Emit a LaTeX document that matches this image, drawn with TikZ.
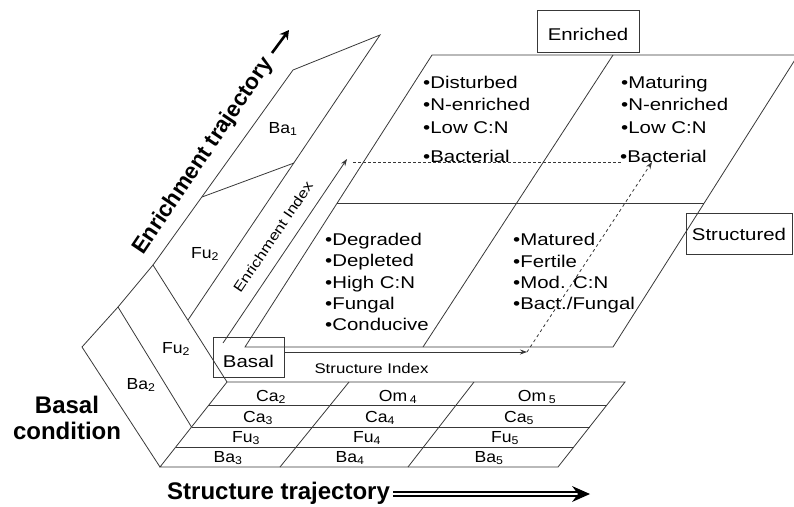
\documentclass[tikz,border=0pt]{standalone}
\usepackage{fontspec}
\setmainfont{Liberation Sans}
\newfontfamily\cellfont[FakeStretch=1.2]{Liberation Sans}
\newfontfamily\lblfont[FakeStretch=1.1]{Liberation Sans}
\usetikzlibrary{arrows.meta}
\begin{document}
\begin{tikzpicture}[x=1pt,y=-1pt,
  wire/.style={draw=black!78, line width=0.8pt},
  celltxt/.style={anchor=base west, inner sep=0pt, font=\cellfont\fontsize{17}{20}\selectfont},
  lbl/.style={anchor=base, inner sep=0pt, font=\lblfont\fontsize{16}{18}\selectfont},
  boxlbl/.style={draw=black!78, line width=0.8pt, inner sep=0pt, text depth=0pt, font=\cellfont\fontsize{17}{20}\selectfont},
  bigtxt/.style={inner sep=0pt, font=\bfseries\fontsize{24}{26}\selectfont},
  idx/.style={inner sep=0pt, font=\cellfont\fontsize{14}{16}\selectfont},
  tip/.style={-{Stealth[length=7pt,width=5pt]}},
]
\useasboundingbox (0,0) rectangle (794,506);
\clip (0,0) rectangle (794,506);

% ---- enrichment wall
\coordinate (w1) at (293,70);
\coordinate (w2) at (380,35);
\coordinate (w3) at (188,320);
\coordinate (w4) at (153,265);
\draw[wire] (w4) -- (w1) -- (w2) -- (w3);
\draw[wire] (202,197) -- (294,163);

% ---- basal condition panel
\coordinate (b0) at (82,347);
\coordinate (b1) at (118,307);
\coordinate (f0) at (227,382);
\draw[wire] (w4) -- (b1) -- (b0) -- (160,467);
\draw[wire] (b1) -- (191.5,427);
\draw[wire] (w4) -- (f0);

% ---- floor
\draw[wire] (f0) -- (625,382) -- (558,467) -- (160,467) -- cycle;
\draw[wire] (208.9,405) -- (606.9,405);
\draw[wire] (191.5,427) -- (589.5,427);
\draw[wire] (175.8,447) -- (573.8,447);
\draw[wire] (349,382) -- (280,467);
\draw[wire] (474,382) -- (408,467);

% ---- index plane
\draw[wire] (245,347) -- (613,347) -- (798,55) -- (432,55) -- cycle;
\draw[wire] (337,203) -- (704,203);
\draw[wire] (423,347) -- (613,55);

% ---- boxes
\node[boxlbl, minimum width=102pt, minimum height=42pt, text height=18pt] (enr) at (588,31) {Enriched};
\node[boxlbl, minimum width=106pt, minimum height=41pt, text height=13pt] (str) at (739,233.5) {Structured};
\node[boxlbl, minimum width=71pt, minimum height=40pt, text height=20pt] (bas) at (248.5,357) {Basal};

% ---- cell texts
\node[celltxt] (t1) at (423,88) {•Disturbed};
\node[celltxt] (t2) at (423,110) {•N-enriched};
\node[celltxt] (t3) at (423,133) {•Low C:N};
\node[celltxt] (t4) at (423,162) {•Bacterial};
\node[celltxt] (r1) at (621,88) {•Maturing};
\node[celltxt] (r2) at (621,110) {•N-enriched};
\node[celltxt] (r3) at (621,133) {•Low C:N};
\node[celltxt] (r4) at (620,162) {•Bacterial};
\node[celltxt] (d1) at (325,245) {•Degraded};
\node[celltxt] (d2) at (325,266.5) {•Depleted};
\node[celltxt] (d3) at (325,288) {•High C:N};
\node[celltxt] (d4) at (325,309) {•Fungal};
\node[celltxt] (d5) at (325,330.5) {•Conducive};
\node[celltxt] (m1) at (513,245) {•Matured};
\node[celltxt] (m2) at (513,267) {•Fertile};
\node[celltxt] (m3) at (513,288) {•Mod. C:N};
\node[celltxt] (m4) at (513,309) {•Bact./Fungal};

% ---- floor labels
\node[lbl] (ca2) at (271,401) {Ca\textsubscript{2}};
\node[lbl] (om4) at (398,401) {Om\,\textsubscript{4}};
\node[lbl] (om5) at (537,401) {Om\,\textsubscript{5}};
\node[lbl] (ca3) at (258,422) {Ca\textsubscript{3}};
\node[lbl] (ca4) at (380,422) {Ca\textsubscript{4}};
\node[lbl] (ca5) at (519,422) {Ca\textsubscript{5}};
\node[lbl] (fu3) at (246,442) {Fu\textsubscript{3}};
\node[lbl] (fu4) at (367,442) {Fu\textsubscript{4}};
\node[lbl] (fu5) at (505,442) {Fu\textsubscript{5}};
\node[lbl] (ba3) at (228,462) {Ba\textsubscript{3}};
\node[lbl] (ba4) at (350,462) {Ba\textsubscript{4}};
\node[lbl] (ba5) at (489,462) {Ba\textsubscript{5}};

% ---- wall labels
\node[lbl] (ba1) at (283,133) {Ba\textsubscript{1}};
\node[lbl] (fu2a) at (205,258) {Fu\textsubscript{2}};
\node[lbl] (fu2b) at (176,353) {Fu\textsubscript{2}};
\node[lbl] (ba2) at (141,389) {Ba\textsubscript{2}};

% ---- index arrows
\coordinate (ei0) at (223,343);
\coordinate (ei1) at (347,159);
\draw[wire, tip] (ei0) -- (ei1);
\node[idx, rotate=56] (eilbl) at (273,237) {Enrichment Index};
\coordinate (si0) at (284,352);
\coordinate (si1) at (527,352);
\draw[wire, tip] (si0) -- (si1);
\node[idx, anchor=base] (silbl) at (371.5,373) {Structure Index};
\coordinate (dh0) at (353,162);
\coordinate (dh1) at (622,162);
\draw[wire, dash pattern=on 3pt off 2pt] (dh0) -- (dh1);
\coordinate (dv1) at (652,162);
\draw[wire, dash pattern=on 3pt off 3pt, tip] (si1) -- (dv1);

% ---- trajectory labels
\node[bigtxt, anchor=base west, rotate=56, font=\bfseries\fontsize{22.5}{24}\selectfont] (etraj) at (143,256) {Enrichment trajectory};
\coordinate (et0) at (272,53);
\coordinate (et1) at (289,30);
\draw[black, line width=2.6pt, -{Stealth[length=9pt,width=10pt]}] (et0) -- (et1);

\node[bigtxt, anchor=base west] (straj) at (167,499) {Structure trajectory};
\coordinate (st0) at (393,494);
\coordinate (st1) at (578,494);
\coordinate (st2) at (590,494);
\draw[black, line width=1.4pt, double=white, double distance=2.4pt] (st0) -- (st1);
\fill[black] (st2) -- ++(-18,-8) -- ++(6,8) -- ++(-6,8) -- cycle;

\node[bigtxt, align=center] (bcond) at (67,417.5) {Basal\\condition};
\end{tikzpicture}
\end{document}
